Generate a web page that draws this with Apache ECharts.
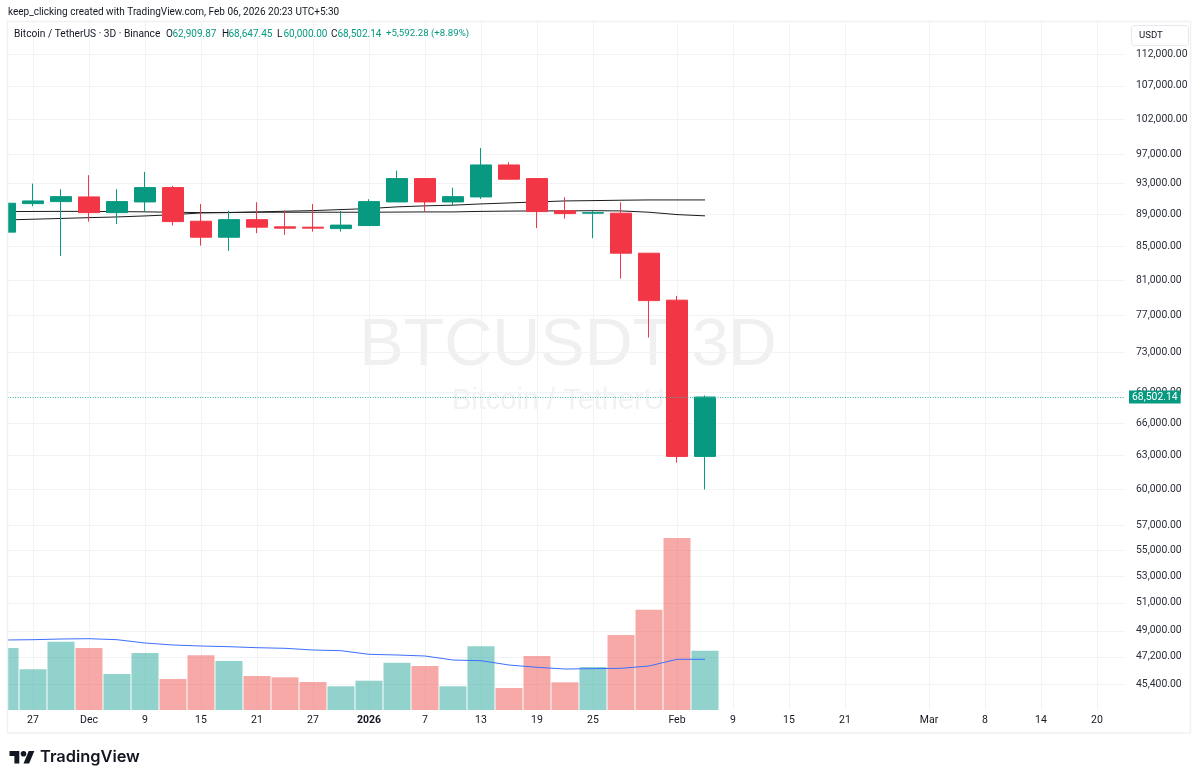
<!DOCTYPE html>
<html>
<head>
<meta charset="utf-8">
<style>html,body{margin:0;padding:0;background:#fff}#chart{width:1200px;height:782px}</style>
<script src="https://cdn.jsdelivr.net/npm/echarts@6/dist/echarts.min.js"></script>
</head>
<body>
<div id="chart"></div>
<script>
// BTCUSDT 3D candles, last bar is the one quoted in the header
const opens  = [86760,90380,90640,91250,89220,90600,92480,88130,86130,88330,87420,87380,87200,87580,90600,93680,90600,91250,95530,93680,89450,89150,89150,84180,78700,62909.87];
const closes = [90430,90730,91290,89220,90640,92480,88080,86130,88330,87380,87260,87260,87640,90640,93680,90600,91290,95530,93600,89350,89100,89220,84180,78650,62909.87,68502.14];
const highs  = [90430,93010,92265,94135,92265,94590,92700,90340,89480,90560,89480,90340,89450,90950,94760,93680,92480,97890,95900,93680,91215,89480,90560,84180,79185,68647.45];
const lows   = [86760,90040,83850,88080,87790,89350,87580,85100,84460,86630,86420,86820,86820,87580,90600,89350,90210,90990,93600,87260,88460,86010,81170,74590,62360,60000];

// Moving averages of price
const maSlow = [89350,89370,89380,89380,89350,89320,89270,89220,89250,89270,89270,89270,89270,89270,89290,89310,89310,89380,89415,89440,89440,89465,89440,89270,88970,88810];
const maFast = [88290,88380,88480,88580,88670,88800,88950,89185,89220,89310,89400,89480,89610,89740,89960,90090,90180,90340,90470,90600,90730,90770,90820,90860,90860,90860];

// Volume and its moving average
const volumes = [62000,40700,68300,62000,36000,57000,31000,54700,49000,34000,32700,28000,23700,29300,47300,44000,23700,63700,22000,54000,27700,43000,75000,100300,172000,59300];
const volumeMa = [70000,70300,71000,71300,70300,67000,65000,64000,63300,62300,61700,60000,59300,55700,55000,54000,50000,49300,45000,42700,41000,41300,41700,44000,50700,50700];

// One entry per bar slot, blank where the time axis has no label
const timeLabels = ['','27','','Dec','','9','','15','','21','','27','','2026','','7','','13','','19','','25','','','Feb','','9','','15','','21','','','Mar','','8','','14','','20',''];
const priceTicks = [112000,107000,102000,97000,93000,89000,85000,81000,77000,73000,69000,66000,63000,60000,57000,55000,53000,51000,49000,47200,45400];
const lastPrice = 68502.14;

const creditLine = 'keep_clicking created with TradingView.com, Feb 06, 2026 20:23 UTC+5:30';
const symbolLine = 'Bitcoin / TetherUS · 3D · Binance';
const ohlcLetters = ['O','H','L','C'];
const ohlcValues = ['62,909.87','68,647.45','60,000.00','68,502.14'];
const changeText = '+5,592.28 (+8.89%)';

const UP = '#089981', DOWN = '#F23645', GRID = '#f2f3f5', INK = '#131722';
const UI_FONT = 'Roboto, sans-serif';
const fmtPrice = v => Number(v).toLocaleString('en-US', {minimumFractionDigits: 2, maximumFractionDigits: 2});

const chart = echarts.init(document.getElementById('chart'), null, {renderer: 'canvas'});

const hdrText = (x, y, text, fill, size = 10) => ({
  type: 'text', x, y, z: 30,
  style: {text, fill, font: size + 'px ' + UI_FONT, textVerticalAlign: 'middle'}
});
const ohlcX = [166, 222, 277, 331];

chart.setOption({
  animation: false,
  backgroundColor: '#fff',
  grid: {left: 5, width: 1120, top: 21, height: 689, containLabel: false},
  xAxis: {
    type: 'category',
    data: timeLabels,
    boundaryGap: false,
    axisLine: {show: false},
    axisTick: {show: false},
    splitLine: {show: true, interval: (i, v) => v !== '', lineStyle: {color: GRID, width: 1}},
    axisLabel: {
      interval: (i, v) => v !== '',
      color: INK, fontFamily: UI_FONT, fontSize: 10.5, margin: 5,
      formatter: v => v === '2026' ? '{y|2026}' : v,
      rich: {y: {fontWeight: 'bold', fontFamily: UI_FONT, fontSize: 10.5, color: INK}}
    }
  },
  yAxis: [{
    type: 'log',
    position: 'right',
    min: 43740,
    max: 117420,
    axisLine: {show: false},
    axisTick: {show: false},
    splitLine: {show: false},
    axisLabel: {
      customValues: priceTicks, margin: 11, color: '#2a2e39',
      fontFamily: UI_FONT, fontSize: 10.4, align: 'left',
      padding: [3, 0, 0, 0],
      formatter: fmtPrice
    }
  }, {
    type: 'value',
    min: 0, max: 689000,
    show: false
  }],
  series: [{
    // Horizontal price grid, placed at the axis tick values
    name: 'Price grid', type: 'line', data: [], z: 0,
    markLine: {
      silent: true, symbol: 'none', animation: false, z: 0,
      label: {show: false},
      lineStyle: {type: 'solid', color: GRID, width: 1},
      emphasis: {disabled: true},
      data: priceTicks.map(v => ({yAxis: v}))
    }
  }, {
    name: 'Volume', type: 'bar', yAxisIndex: 1, barWidth: 27, z: 1,
    data: volumes.map((v, i) => ({
      value: v,
      itemStyle: {color: closes[i] >= opens[i] ? 'rgba(38,166,154,0.5)' : 'rgba(239,83,80,0.5)'}
    }))
  }, {
    name: 'Volume MA', type: 'line', yAxisIndex: 1, data: volumeMa, z: 2,
    showSymbol: false, lineStyle: {color: '#3d6fff', width: 1}
  }, {
    name: 'MA slow', type: 'line', data: maSlow, z: 2,
    showSymbol: false, lineStyle: {color: '#1c1c1c', width: 1}
  }, {
    name: 'MA fast', type: 'line', data: maFast, z: 2,
    showSymbol: false, lineStyle: {color: '#1c1c1c', width: 1}
  }, {
    name: 'BTCUSDT', type: 'candlestick', z: 3, barWidth: 22,
    data: opens.map((o, i) => [o, closes[i], lows[i], highs[i]]),
    itemStyle: {color: UP, color0: DOWN, borderColor: UP, borderColor0: DOWN, borderWidth: 1},
    markLine: {
      silent: true, symbol: 'none', animation: false,
      lineStyle: {type: [1, 1.5], color: '#3fb39f', width: 1},
      label: {
        show: true, position: 'end', distance: 4, formatter: () => fmtPrice(lastPrice),
        color: '#fff', backgroundColor: UP, fontFamily: UI_FONT, fontSize: 10.4,
        padding: [2, 3, 1, 3]
      },
      emphasis: {disabled: true},
      data: [{yAxis: lastPrice}]
    }
  }],
  graphic: [
    // Pane watermark
    {type: 'text', x: 568, y: 347, z: -1, silent: true, style: {
      text: 'BTCUSDT 3D', fill: '#f0f0f1', font: '66.5px "Liberation Sans", sans-serif',
      textAlign: 'center', textVerticalAlign: 'middle'}},
    {type: 'text', x: 568, y: 401, z: -1, silent: true, style: {
      text: 'Bitcoin / TetherUS', fill: '#f2f2f3', font: '29px "Liberation Sans", sans-serif',
      textAlign: 'center', textVerticalAlign: 'middle'}},
    // Left margin and pane frame
    {type: 'rect', z: 20, silent: true, shape: {x: 0, y: 0, width: 7.5, height: 782}, style: {fill: '#fff'}},
    {type: 'rect', z: 21, silent: true, shape: {x: 7.5, y: 21.5, width: 1183, height: 711.5},
      style: {fill: 'none', stroke: '#f0f1f4', lineWidth: 1.5}},
    // Header
    hdrText(8, 12, creditLine, INK),
    hdrText(14, 34, symbolLine, INK, 10.2),
    ...ohlcLetters.flatMap((l, i) => [
      hdrText(ohlcX[i], 34, l, INK),
      hdrText(ohlcX[i] + 6.5, 34, ohlcValues[i], UP)
    ]),
    hdrText(386, 34, changeText, UP, 9.7),
    // Currency button
    {type: 'rect', z: 30, silent: true, shape: {x: 1131.5, y: 25.5, width: 57, height: 20, r: 3},
      style: {fill: '#fff', stroke: '#e6e8ee', lineWidth: 1}},
    hdrText(1139, 36, 'USDT', INK, 9.6),
    // Brand mark
    {type: 'polygon', z: 30, silent: true, x: 9.5, y: 748.2, scaleX: 0.7, scaleY: 0.7,
      shape: {points: [[14,22],[7,22],[7,11],[0,11],[0,4],[14,4]]}, style: {fill: INK}},
    {type: 'polygon', z: 30, silent: true, x: 9.5, y: 748.2, scaleX: 0.7, scaleY: 0.7,
      shape: {points: [[28,22],[20,22],[27.5,4],[35.5,4]]}, style: {fill: INK}},
    {type: 'circle', z: 30, silent: true, x: 9.5, y: 748.2, scaleX: 0.7, scaleY: 0.7,
      shape: {cx: 20, cy: 8, r: 4}, style: {fill: INK}},
    {type: 'text', z: 30, x: 40, y: 757, silent: true, style: {
      text: 'TradingView', fill: INK, font: '600 16.4px Inter, sans-serif', textVerticalAlign: 'middle'}}
  ]
});
</script>
</body>
</html>
